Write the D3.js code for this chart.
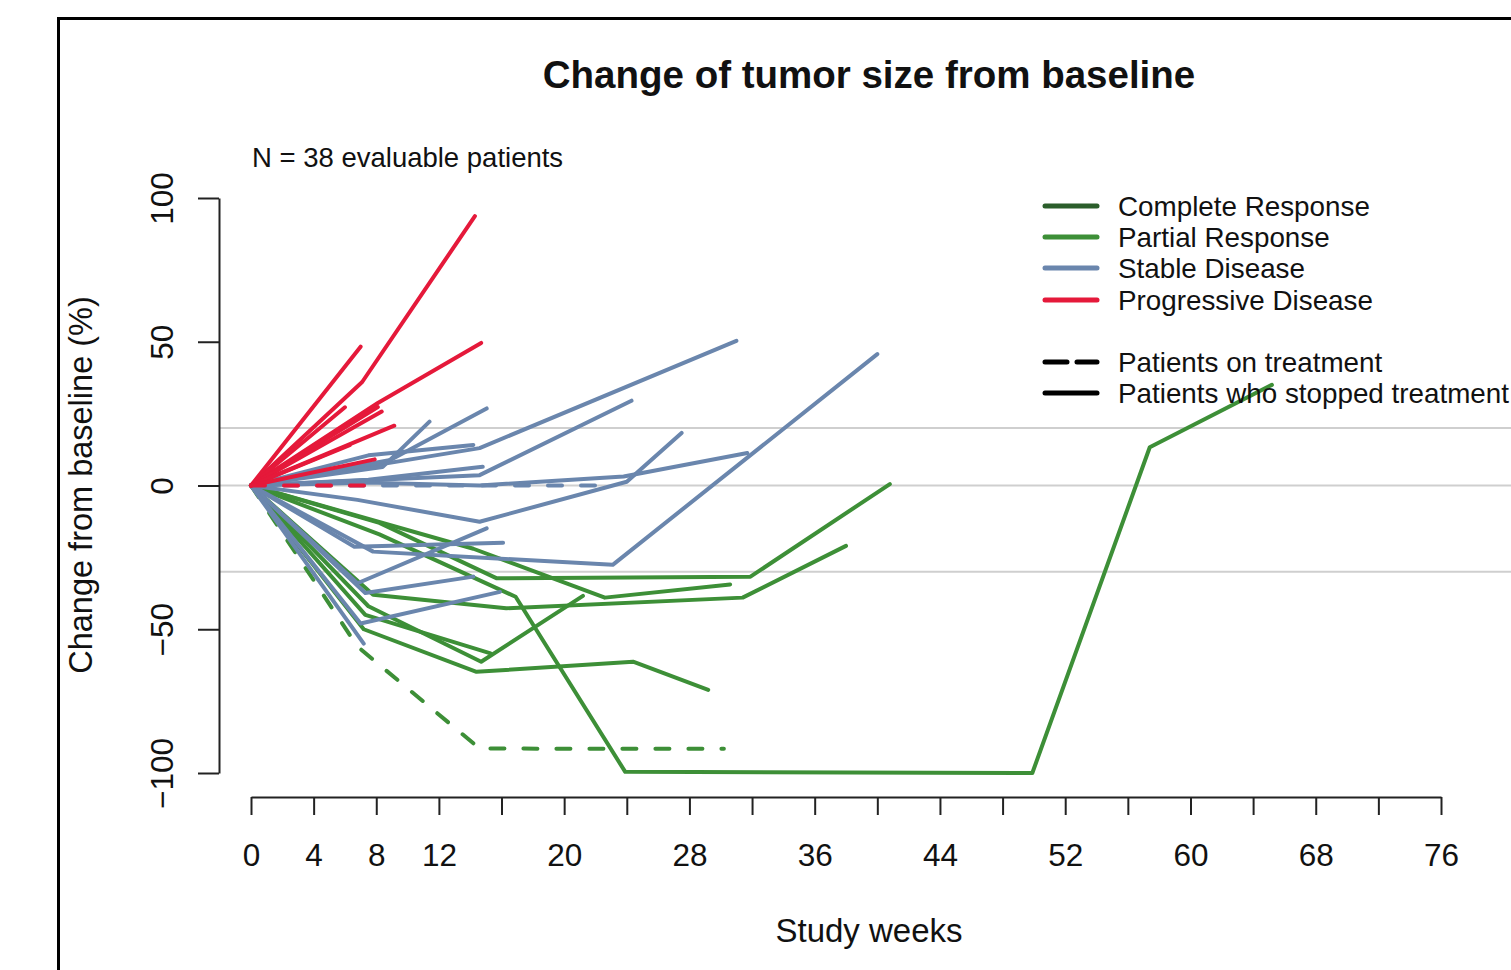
<!DOCTYPE html>
<html lang="en">
<head>
    <meta charset="UTF-8" />
    <title>Change of tumor size from baseline</title>
    <script src="https://d3js.org/d3.v7.min.js"></script>
    <style>
        body { margin: 0; background: #fff; }
        text { font-family: "Liberation Sans", Arial, sans-serif; fill: #111; }
    </style>
</head>
<body>
    <script>
        // each patient is a list of [week, % change]
        var partialResponse = [
            [[0, 0], [8.2, -17], [16.9, -38.7], [23.9, -99.6], [49.9, -100], [57.4, 13.3], [65.2, 35]],
            [[0, 0], [8.2, -13], [15.7, -32.3], [31.9, -31.7], [40.8, 0.5]],
            [[0, 0], [14.2, -22], [22.6, -39], [30.6, -34.4]],
            [[0, 0], [7.8, -38], [16.3, -42.7], [31.4, -39], [38, -21]],
            [[0, 0], [7.5, -42], [14.7, -61.3], [21.2, -38.4]],
            [[0, 0], [7.3, -45], [15.3, -58.4]],
            [[0, 0], [7.2, -50], [14.4, -64.8], [24.4, -61.3], [29.2, -71.1]],
            [[0, 0], [6.8, -56], [14.6, -91.5], [30.2, -91.6]]
        ];
        var partialOnTreatment = [false, false, false, false, false, false, false, true];

        var stableDisease = [
            [[0, 0], [14.6, 13], [31, 50.3]],
            [[0, 0], [14.6, 3.6], [24.3, 29.5]],
            [[0, 0], [8.9, 8.9], [15.05, 26.8]],
            [[0, 0], [8.4, 6.4], [11.4, 22.2]],
            [[0, 0], [7.5, 10.5], [14.2, 14.1]],
            [[0, 0], [7.5, 2], [14.8, 6.5]],
            [[0, 0], [6.8, -5], [14.6, -12.6], [24, 1.3], [27.5, 18.3]],
            [[0, 0], [7.5, 1], [14.6, 0], [23.8, 3.1], [31.7, 11.3]],
            [[0, 0], [7.8, -23], [23.1, -27.6], [40, 45.7]],
            [[0, 0], [6.8, -34], [15.05, -14.9]],
            [[0, 0], [6.6, -21.3], [16.1, -19.9]],
            [[0, 0], [7.3, -37.4], [14.2, -31.7]],
            [[0, 0], [7, -48], [15.9, -37]],
            [[0, 0], [7.2, -55]],
            [[0, 0], [7.7, 0], [15, 0], [22, 0]]
        ];
        var stableOnTreatment = [false, false, false, false, false, false, false, false,
            false, false, false, false, false, false, true];

        var progressiveDisease = [
            [[0, 0], [7.1, 36], [14.3, 93.7]],
            [[0, 0], [7.0, 48.3]],
            [[0, 0], [8.1, 28.7], [14.7, 49.6]],
            [[0, 0], [6.0, 27.2]],
            [[0, 0], [8.1, 27.3]],
            [[0, 0], [8.35, 25.7]],
            [[0, 0], [9.15, 20.8]],
            [[0, 0], [6.3, 14]],
            [[0, 0], [7.9, 9.1]],
            [[0, 0], [7.6, 0]]
        ];
        var progressiveOnTreatment = [false, false, false, false, false, false, false, false, false, true];

        var xTicks = d3.range(0, 77, 4);
        var xTickLabels = [0, 4, 8, 12, 20, 28, 36, 44, 52, 60, 68, 76];
        var yTicks = [-100, -50, 0, 50, 100];
        var refLines = [20, 0, -30];

        var legendLabels = ["Complete Response", "Partial Response", "Stable Disease", "Progressive Disease"];
        var legendColors = ["#2b5e2b", "#3d8f37", "#6a86ad", "#e5193a"];
        var lineTypeLabels = ["Patients on treatment", "Patients who stopped treatment"];

        var w = 1511;
        var h = 970;

        var x = d3.scaleLinear().domain([0, 76]).range([251, 1441]);
        var y = d3.scaleLinear().domain([-100, 100]).range([773, 198]);

        var svg = d3.select("body")
            .append("svg")
            .attr("width", w)
            .attr("height", h);

        // frame
        svg.append("rect")
            .attr("x", 58.5).attr("y", 18.5)
            .attr("width", 1600).attr("height", 1100)
            .attr("fill", "none")
            .attr("stroke", "#000")
            .attr("stroke-width", 3);

        // reference lines
        svg.selectAll(".ref")
            .data(refLines)
            .enter()
            .append("line")
            .attr("x1", 219).attr("x2", w)
            .attr("y1", function (d) { return y(d); })
            .attr("y2", function (d) { return y(d); })
            .attr("stroke", "#cfcfcf")
            .attr("stroke-width", 2);

        var line = d3.line()
            .x(function (d) { return x(d[0]); })
            .y(function (d) { return y(d[1]); });

        function drawGroup(data, dashed, color) {
            svg.append("g")
                .selectAll("path")
                .data(data)
                .enter()
                .append("path")
                .attr("d", line)
                .attr("fill", "none")
                .attr("stroke", color)
                .attr("stroke-width", 4)
                .attr("stroke-linejoin", "round")
                .attr("stroke-linecap", "round")
                .attr("stroke-dasharray", function (d, i) {
                    return dashed[i] ? "14,19" : null;
                });
        }

        drawGroup(partialResponse, partialOnTreatment, legendColors[1]);
        drawGroup(stableDisease, stableOnTreatment, legendColors[2]);
        drawGroup(progressiveDisease, progressiveOnTreatment, legendColors[3]);

        // axes
        var xAxis = svg.append("g")
            .attr("transform", "translate(0,797)")
            .call(d3.axisBottom(x).tickValues(xTicks).tickSize(18).tickSizeOuter(0)
                .tickFormat(function (d) { return xTickLabels.indexOf(d) >= 0 ? d : ""; }));
        xAxis.selectAll("path, line").attr("stroke", "#222").attr("stroke-width", 2);
        xAxis.selectAll("text")
            .attr("y", 69)
            .attr("dy", 0)
            .style("font-size", "31.5px")
            .style("font-family", "'Liberation Sans', Arial, sans-serif")
            .attr("fill", "#111");

        var yAxis = svg.append("g")
            .attr("transform", "translate(219,0)")
            .call(d3.axisLeft(y).tickValues(yTicks).tickSize(21).tickSizeOuter(0)
                .tickFormat(function (d) { return d < 0 ? "\u2212" + Math.abs(d) : d; }));
        yAxis.selectAll("path, line").attr("stroke", "#222").attr("stroke-width", 2);
        yAxis.selectAll("text")
            .attr("x", 0)
            .attr("dy", 0)
            .attr("text-anchor", "middle")
            .attr("transform", "translate(-46,0) rotate(-90)")
            .style("font-size", "31.5px")
            .style("font-family", "'Liberation Sans', Arial, sans-serif")
            .attr("fill", "#111");

        // titles
        svg.append("text")
            .attr("x", 869).attr("y", 88)
            .attr("text-anchor", "middle")
            .attr("font-weight", "bold")
            .attr("font-size", "38.5px")
            .text("Change of tumor size from baseline");

        svg.append("text")
            .attr("x", 252).attr("y", 167)
            .attr("font-size", "27.5px")
            .text("N = 38 evaluable patients");

        svg.append("text")
            .attr("x", 869).attr("y", 942)
            .attr("text-anchor", "middle")
            .attr("font-size", "33px")
            .text("Study weeks");

        svg.append("text")
            .attr("transform", "translate(92,485) rotate(-90)")
            .attr("text-anchor", "middle")
            .attr("font-size", "32.5px")
            .text("Change from baseline (%)");

        // legend
        var legendY = [206, 237, 268, 300];
        var legend = svg.append("g");
        legend.selectAll("line")
            .data(legendLabels)
            .enter()
            .append("line")
            .attr("x1", 1045).attr("x2", 1097)
            .attr("y1", function (d, i) { return legendY[i]; })
            .attr("y2", function (d, i) { return legendY[i]; })
            .attr("stroke", function (d, i) { return legendColors[i]; })
            .attr("stroke-width", 5)
            .attr("stroke-linecap", "round");
        legend.selectAll("text")
            .data(legendLabels)
            .enter()
            .append("text")
            .attr("x", 1118)
            .attr("y", function (d, i) { return legendY[i] + 9.5; })
            .attr("font-size", "27.8px")
            .text(function (d) { return d; });

        var typeY = [362, 393];
        var types = svg.append("g");
        types.selectAll("line")
            .data(lineTypeLabels)
            .enter()
            .append("line")
            .attr("x1", 1045).attr("x2", 1097)
            .attr("y1", function (d, i) { return typeY[i]; })
            .attr("y2", function (d, i) { return typeY[i]; })
            .attr("stroke", "#000")
            .attr("stroke-width", 5)
            .attr("stroke-linecap", "round")
            .attr("stroke-dasharray", function (d, i) { return i == 0 ? "22,10" : null; });
        types.selectAll("text")
            .data(lineTypeLabels)
            .enter()
            .append("text")
            .attr("x", 1118)
            .attr("y", function (d, i) { return typeY[i] + 9.5; })
            .attr("font-size", "27.8px")
            .text(function (d) { return d; });
    </script>
</body>
</html>
